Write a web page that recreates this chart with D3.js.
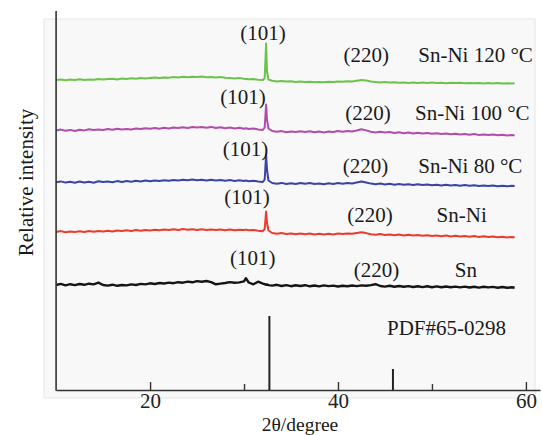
<!DOCTYPE html>
<html><head><meta charset="utf-8">
<script src="https://cdn.jsdelivr.net/npm/d3@7/dist/d3.min.js"></script>
<style>body{margin:0;background:#fff;}svg{display:block;font-family:"Liberation Serif","Times New Roman",serif;}</style>
</head><body>
<svg id="c" width="542" height="435"></svg>
<script>
// 2θ sampling positions (degree)
const angles = [10,10.5,11,11.5,12,12.5,13,13.5,14,14.5,15,15.5,16,16.5,17,17.5,18,18.5,19,19.5,20,20.5,21,21.5,22,22.5,23,23.5,24,24.5,25,25.5,26,26.5,27,27.5,28,28.5,29,29.5,30,30.2,30.5,31,31.5,32,32.2,32.35,32.45,32.6,33,33.5,34,34.5,35,35.5,36,36.5,37,37.5,38,38.5,39,39.5,40,40.5,41,41.5,42,42.5,43,43.5,44,44.5,45,45.5,46,46.5,47,47.5,48,48.5,49,49.5,50,50.5,51,51.5,52,52.5,53,53.5,54,54.5,55,55.5,56,56.5,57,57.5,58,58.5,58.8];

// Relative intensity (a.u., stacked as plotted)
const snNi120 = [310.0,310.6,309.8,310.4,310.1,310.7,309.9,310.5,310.3,311.0,310.4,
 310.9,311.2,310.6,311.4,311.0,311.7,311.3,311.9,311.5,312.0,
 312.4,311.9,312.6,312.3,312.9,312.5,313.2,312.7,313.3,312.9,
 313.4,312.8,313.1,312.6,312.9,312.3,312.0,311.6,311.9,311.2,
 311.0,310.7,310.9,310.3,310.0,312.0,346.5,318.0,310.5,
 309.2,308.6,309.0,308.4,308.7,308.1,308.5,307.9,308.3,307.7,
 308.1,307.8,308.3,307.9,308.4,308.2,308.7,308.5,309.3,309.9,
 309.4,308.4,308.0,307.6,308.0,307.4,307.7,307.3,307.6,307.1,
 307.5,307.0,307.4,307.1,307.5,306.9,307.3,306.8,307.2,306.9,
 307.3,306.8,307.1,306.7,307.0,306.6,307.0,306.6,306.9,306.5,
 306.8,306.5,306.7];
const snNi100 = [259.5,260.4,259.2,260.1,259.0,260.3,259.6,260.8,259.9,260.5,260.0,
 261.0,260.2,261.3,260.4,261.1,260.6,261.5,260.9,261.8,261.2,
 262.0,261.3,262.2,261.6,262.6,261.9,262.8,262.1,263.0,262.4,
 262.9,262.2,263.1,262.0,262.7,261.8,262.5,261.5,262.3,261.2,
 261.8,261.0,261.6,260.6,260.0,262.5,285.5,270.0,261.5,
 259.0,258.2,258.9,257.8,258.6,257.9,258.8,258.1,258.7,257.7,
 258.4,257.6,258.5,258.0,258.9,258.3,259.0,258.6,259.5,260.8,
 259.6,258.2,257.6,258.3,257.4,257.9,257.0,257.8,256.8,257.4,
 256.6,257.3,256.4,257.0,256.2,256.8,255.9,256.5,255.7,256.2,
 255.5,256.1,255.3,255.9,255.1,255.6,254.9,255.4,254.7,255.2,
 254.6,254.9,254.5];
const snNi80 = [207.7,208.6,207.4,208.3,207.2,208.5,207.6,208.2,207.3,208.7,207.9,
 208.4,207.8,208.9,208.1,209.0,208.3,209.2,208.6,209.4,208.8,
 209.6,209.0,209.8,209.2,210.1,209.4,210.3,209.7,210.4,209.8,
 210.2,209.5,210.3,209.6,210.0,209.3,209.9,209.1,209.7,209.0,
 209.5,208.8,209.3,208.5,208.0,210.5,235.5,220.0,209.5,
 207.0,206.3,207.1,206.0,206.8,206.1,207.0,206.2,206.9,205.9,
 206.6,205.8,206.7,206.1,206.9,206.3,207.0,206.5,207.4,208.4,
 207.5,206.4,205.7,206.4,205.6,206.2,205.3,206.0,205.2,205.8,
 205.0,205.7,204.9,205.5,204.7,205.3,204.6,205.2,204.4,205.0,
 204.3,204.9,204.2,204.8,204.0,204.6,203.9,204.5,203.8,204.3,
 203.7,204.2,203.9];
const snNi = [158.0,158.9,157.7,158.6,157.9,158.8,158.1,159.0,158.2,159.1,158.4,
 159.3,158.6,159.5,158.9,159.7,159.1,159.9,159.3,160.1,159.6,
 160.3,159.7,160.5,159.9,160.8,160.1,160.9,160.2,160.7,160.0,
 160.8,160.1,160.6,159.9,160.5,159.8,160.4,159.7,160.3,159.9,
 160.4,159.7,160.1,159.2,158.8,161.0,178.5,167.0,159.5,
 157.0,156.2,156.9,155.9,156.6,155.8,156.5,155.7,156.4,155.6,
 156.3,155.5,156.2,155.6,156.4,155.9,156.6,156.2,157.0,157.8,
 156.9,155.8,155.2,155.9,155.0,155.6,154.7,155.4,154.6,155.2,
 154.4,155.0,154.2,154.8,154.0,154.6,153.8,154.5,153.6,154.2,
 153.4,154.0,153.2,153.9,153.1,153.7,152.9,153.5,152.8,153.3,
 152.6,153.1,152.8];
const sn = [105.0,106.1,104.6,105.8,104.9,106.0,105.2,106.3,105.6,107.3,105.0,
 104.4,105.3,104.2,105.0,104.6,105.6,105.0,106.1,105.6,106.7,
 106.0,107.0,106.5,107.4,106.8,107.8,107.3,108.4,107.7,108.9,
 108.2,109.0,107.9,105.7,106.4,107.0,107.9,107.2,107.6,108.6,
 111.8,107.5,105.7,108.3,106.4,105.8,105.2,105.6,104.9,
 104.4,105.2,104.0,104.9,103.8,104.7,104.0,104.8,103.7,104.5,
 103.6,104.6,103.9,104.4,103.5,104.3,103.8,104.5,103.9,104.6,
 104.2,104.9,105.8,104.0,103.4,104.2,103.3,104.0,103.2,103.9,
 103.0,103.8,102.9,103.7,102.8,103.6,102.7,103.5,102.8,103.4,
 102.6,103.4,102.5,103.3,102.4,103.2,102.6,103.1,102.3,103.0,
 102.2,102.8,102.3];

const seriesNames = ["Sn-Ni 120 °C","Sn-Ni 100 °C","Sn-Ni 80 °C","Sn-Ni","Sn"];
const seriesValues = [snNi120, snNi100, snNi80, snNi, sn];
const seriesColors = ["#6cc34c","#b24cab","#3b43a6","#ea3b2e","#151515"];
const seriesWidths = [2.0,2.0,2.0,2.0,2.4];

// reference pattern PDF#65-0298
const pdfAngles = [32.7, 45.85];
const pdfValues = [74, 21];

// annotation anchors (2θ, intensity)
const peakLabels = [
 {t:"(101)",x:32.03,y:350.5,a:"middle"},{t:"(220)",x:43.0,y:328.3,a:"middle"},{t:"Sn-Ni 120 °C",x:48.54,y:328.3,a:"start"},
 {t:"(101)",x:29.9,y:286,a:"middle"},{t:"(220)",x:43.2,y:270,a:"middle"},{t:"Sn-Ni 100 °C",x:48.2,y:270,a:"start"},
 {t:"(101)",x:30.15,y:234.3,a:"middle"},{t:"(220)",x:42.93,y:216.7,a:"middle"},{t:"Sn-Ni 80 °C",x:48.54,y:216.7,a:"start"},
 {t:"(101)",x:30.32,y:186,a:"middle"},{t:"(220)",x:43.4,y:168.3,a:"middle"},{t:"Sn-Ni",x:50.49,y:168.3,a:"start"},
 {t:"(101)",x:30.92,y:125,a:"middle"},{t:"(220)",x:44.11,y:113.3,a:"middle"},{t:"Sn",x:52.44,y:113.3,a:"start"},
 {t:"PDF#65-0298",x:45.22,y:55,a:"start"}
];
const majorTicks = [20,40,60];
const minorTicks = [30,50];

const svg = d3.select("#c");
const x = d3.scaleLinear().domain([10,61.5]).range([56.1,540]);
const y = d3.scaleLinear().domain([0,380]).range([390,10]);

svg.append("rect").attr("x",44).attr("y",19).attr("width",491).attr("height",379)
  .attr("fill","#f8f8f8").attr("stroke","#e6e6e6").attr("stroke-width",1);

const line = d3.line().x(d=>x(d[0])).y(d=>y(d[1]));
seriesValues.forEach((vals,i)=>{
  svg.append("path").datum(angles.map((a,j)=>[a,vals[j]]))
    .attr("d",line).attr("fill","none").attr("stroke",seriesColors[i])
    .attr("stroke-width",seriesWidths[i]).attr("stroke-linejoin","round");
});

svg.selectAll(".pdf").data(pdfAngles).enter().append("line")
  .attr("x1",d=>x(d)).attr("x2",d=>x(d)).attr("y1",y(0)).attr("y2",(d,i)=>y(pdfValues[i]))
  .attr("stroke","#222").attr("stroke-width",2);

// axes
const gx = svg.append("g").attr("transform",`translate(0,${y(0)})`);
gx.call(d3.axisBottom(x).tickValues(majorTicks).tickSizeInner(-8).tickSizeOuter(0).tickPadding(3).tickFormat(d3.format("d")));
gx.select(".domain").attr("stroke","#333").attr("stroke-width",1.6);
gx.selectAll(".tick line").attr("stroke","#333").attr("stroke-width",1.4);
gx.selectAll(".tick text").attr("font-size","21px").attr("fill","#222").attr("font-family","Liberation Serif, serif");
const gm = svg.append("g").attr("transform",`translate(0,${y(0)})`);
gm.call(d3.axisBottom(x).tickValues(minorTicks).tickSizeInner(-6).tickSizeOuter(0).tickFormat(""));
gm.select(".domain").remove();
gm.selectAll(".tick line").attr("stroke","#333").attr("stroke-width",1.4);

svg.append("line").attr("x1",x(10)).attr("x2",x(10)).attr("y1",11).attr("y2",y(0)+0.8)
  .attr("stroke","#333").attr("stroke-width",1.6);

svg.selectAll(".lab").data(peakLabels).enter().append("text")
  .attr("x",d=>x(d.x)).attr("y",d=>y(d.y)).attr("text-anchor",d=>d.a)
  .attr("font-size","21px").attr("fill","#1a1a1a").text(d=>d.t);

svg.append("text").attr("x",300).attr("y",430.5).attr("text-anchor","middle")
  .attr("font-size","19.5px").attr("fill","#1a1a1a").text("2θ/degree");
svg.append("text").attr("transform","translate(33,182.5) rotate(-90)").attr("text-anchor","middle")
  .attr("font-size","21px").attr("fill","#1a1a1a").text("Relative intensity");
</script>
</body></html>
